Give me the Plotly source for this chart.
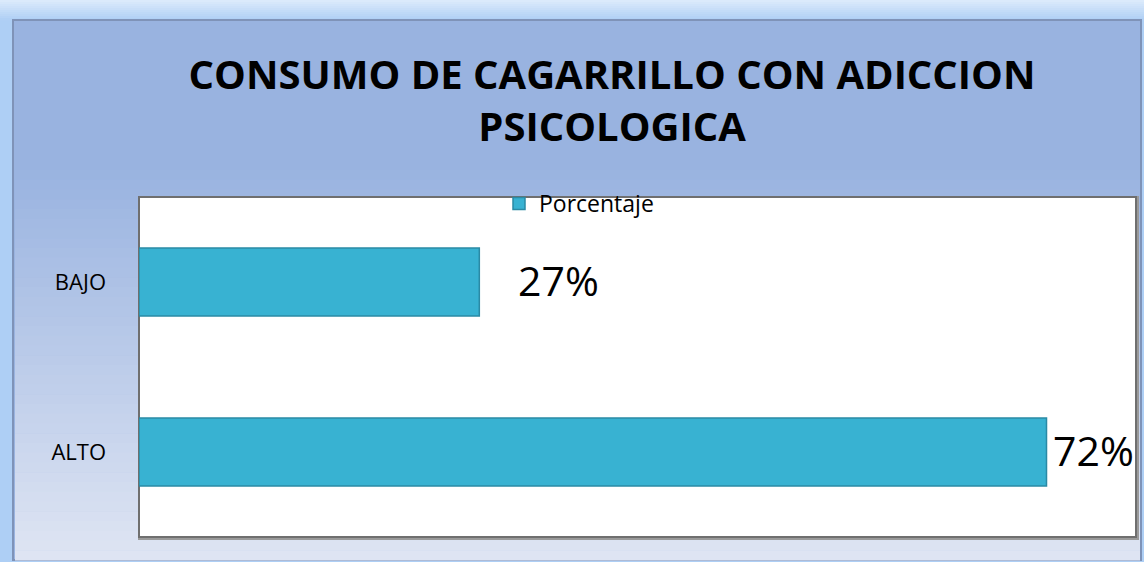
import plotly.graph_objects as go

# ---- data ----
categories = ["ALTO", "BAJO"]
values = [0.72, 0.27]
value_labels = ["72%", "27%"]
series_name = "Porcentaje"
title_text = "CONSUMO DE CAGARRILLO CON ADICCION<br>PSICOLOGICA"

# ---- style ----
label_shift = [4, 37]
W, H = 1144, 562
L, R, T, B = 139, 8, 197, 25
pw, ph = W - L - R, H - T - B

def px2x(px):
    return (px - L) / pw

def py2y(py):
    return (H - B - py) / ph

def hexmix(c1, c2, t):
    a = [int(c1[i:i + 2], 16) for i in (1, 3, 5)]
    b = [int(c2[i:i + 2], 16) for i in (1, 3, 5)]
    return "#%02x%02x%02x" % tuple(round(a[k] + (b[k] - a[k]) * t) for k in range(3))

shapes = []
# outer frame top strip gradient
for i in range(10):
    shapes.append(dict(type="rect", xref="paper", yref="paper", layer="below",
                       x0=px2x(0), x1=px2x(W), y0=py2y(2 * (i + 1) + 0.5), y1=py2y(2 * i),
                       fillcolor=hexmix("#DDEBFB", "#AECFF5", (i + 0.5) / 10), line=dict(width=0)))
y_top_panel, y_bot_panel = 20, 560
x_l_panel, x_r_panel = 13, 1141
n = 40
grad_start = 170
shapes.append(dict(type="rect", xref="paper", yref="paper", layer="below",
                   x0=px2x(x_l_panel), x1=px2x(x_r_panel), y0=py2y(y_bot_panel), y1=py2y(y_top_panel),
                   fillcolor="#99B3E0", line=dict(color="#7f93b8", width=2)))
for i in range(n):
    y0 = grad_start + (y_bot_panel - grad_start) * i / n
    y1 = grad_start + (y_bot_panel - grad_start) * (i + 1) / n
    shapes.append(dict(type="rect", xref="paper", yref="paper", layer="below",
                       x0=px2x(x_l_panel + 2), x1=px2x(x_r_panel - 1), y0=py2y(y1 + 0.5), y1=py2y(y0),
                       fillcolor=hexmix("#99B3E0", "#DFE5F3", (i + 0.5) / n), line=dict(width=0)))
shapes.append(dict(type="rect", xref="paper", yref="paper", layer="below",
                   x0=px2x(L - 1), x1=px2x(W - R + 3), y0=py2y(H - B + 3), y1=py2y(T - 1),
                   fillcolor="#9a9a9a", line=dict(width=0)))
shapes.append(dict(type="rect", xref="paper", yref="paper", layer="below",
                   x0=0, x1=1, y0=0, y1=1,
                   fillcolor="#ffffff", line=dict(color="#6f6f6f", width=2)))

fig = go.Figure()
fig.add_trace(go.Bar(
    y=categories, x=values, orientation="h", name=series_name,
    marker=dict(color="#38B2D2", line=dict(color="#2A8AA5", width=1.5)),
    showlegend=True,
))

annotations = []
for c, v, lab, s in zip(categories, values, value_labels, label_shift):
    annotations.append(dict(x=v, y=c, xref="x", yref="y", text=lab, showarrow=False,
                            xanchor="left", yanchor="middle", xshift=s, yshift=2,
                            font=dict(family="Open Sans", size=41, color="#000000")))

fig.update_layout(
    width=W, height=H,
    margin=dict(l=L, r=R, t=T, b=B, autoexpand=False),
    paper_bgcolor="#AECFF5",
    plot_bgcolor="rgba(0,0,0,0)",
    title=dict(text=title_text, x=0.535, xanchor="center", y=1 - 89 / H, yanchor="middle",
               xref="container", yref="container",
               font=dict(family="Open Sans", size=40, color="#000000", weight="bold")),
    bargap=0.6,
    xaxis=dict(range=[0, 0.791], showgrid=False, showticklabels=False, zeroline=False,
               showline=False, ticks=""),
    yaxis=dict(showgrid=False, zeroline=False, showline=False, ticks="",
               ticklabelstandoff=32, range=[-0.5, 1.5],
               tickfont=dict(family="Open Sans", size=22, color="#000000")),
    legend=dict(orientation="h", xref="container", yref="container", x=499 / W, y=1 - 182 / H,
                xanchor="left", yanchor="top", bgcolor="rgba(0,0,0,0)",
                font=dict(family="Open Sans", size=23, color="#000000"), itemwidth=30),
    shapes=shapes,
    annotations=annotations,
)

fig.write_html("out.html", config={"displayModeBar": False},
               post_script="document.body.style.margin='0';")
